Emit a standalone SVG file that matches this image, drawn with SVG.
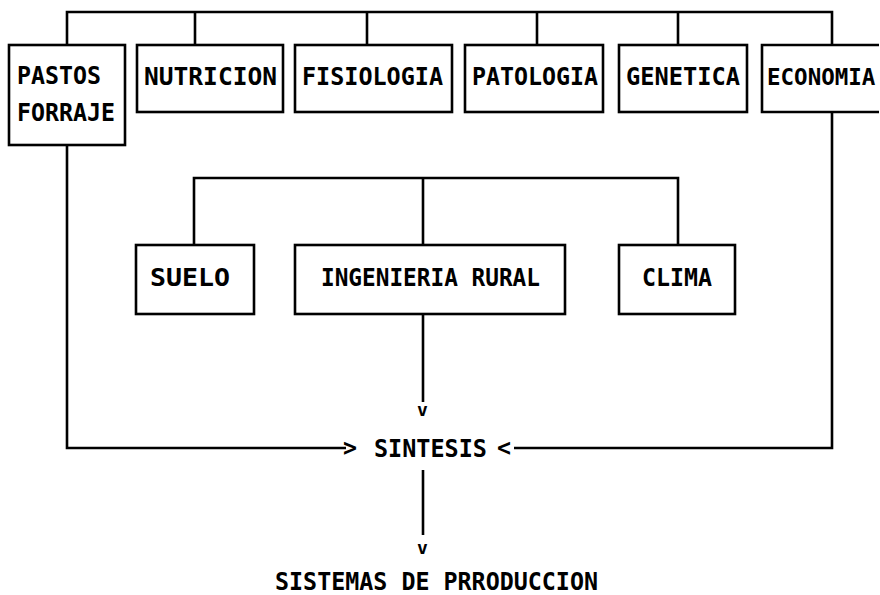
<svg xmlns="http://www.w3.org/2000/svg" width="880" height="595" viewBox="0 0 880 595">
<style>
.box{fill:#fff;stroke:#000;stroke-width:2.6}
.ln{fill:none;stroke:#000;stroke-width:2.6}
text{font-family:"DejaVu Sans Mono","Liberation Mono",monospace;font-weight:bold;font-size:25px;fill:#000}
.sm{font-size:18px}
</style>
<rect width="880" height="595" fill="#fff"/>
<g id="connectors">
<path class="ln" d="M67,45 V12 H832 V45"/>
<path class="ln" d="M195,12 V45 M367,12 V45 M537,12 V45 M678,12 V45"/>
<path class="ln" d="M67,145 V448 H346"/>
<path class="ln" d="M832,112 V448 H514"/>
<path class="ln" d="M194,245 V178 H678 V245 M423,178 V245"/>
<path class="ln" d="M423,314 V402"/>
<path class="ln" d="M423,470 V535"/>
<text x="343" y="456" textLength="14" lengthAdjust="spacingAndGlyphs">&gt;</text>
<text x="497" y="456" textLength="14" lengthAdjust="spacingAndGlyphs">&lt;</text>
<text class="sm" x="417" y="416">v</text>
<text class="sm" x="417" y="554">v</text>
</g>
<g id="pastos"><rect class="box" x="9" y="45" width="116" height="100"/><text x="17" y="84" textLength="84" lengthAdjust="spacingAndGlyphs">PASTOS</text><text x="17" y="121" textLength="98" lengthAdjust="spacingAndGlyphs">FORRAJE</text></g>
<g id="nutricion"><rect class="box" x="137" y="45" width="146" height="67"/><text x="144" y="85" textLength="133" lengthAdjust="spacingAndGlyphs">NUTRICION</text></g>
<g id="fisiologia"><rect class="box" x="295" y="45" width="157" height="67"/><text x="302" y="85" textLength="141" lengthAdjust="spacingAndGlyphs">FISIOLOGIA</text></g>
<g id="patologia"><rect class="box" x="465" y="45" width="138" height="67"/><text x="472" y="85" textLength="126" lengthAdjust="spacingAndGlyphs">PATOLOGIA</text></g>
<g id="genetica"><rect class="box" x="619" y="45" width="128" height="67"/><text x="626" y="85" textLength="114" lengthAdjust="spacingAndGlyphs">GENETICA</text></g>
<g id="economia"><path class="box" d="M879,45 H762 V112 H879"/><text x="767" y="85" style="font-size:22.5px">ECONOMIA</text></g>
<g id="suelo"><rect class="box" x="136" y="245" width="118" height="69"/><text x="150" y="286" textLength="80" lengthAdjust="spacingAndGlyphs">SUELO</text></g>
<g id="ingenieria"><rect class="box" x="295" y="245" width="270" height="69"/><text x="321" y="286" textLength="219" lengthAdjust="spacingAndGlyphs">INGENIERIA RURAL</text></g>
<g id="clima"><rect class="box" x="619" y="245" width="116" height="69"/><text x="642" y="286" textLength="70" lengthAdjust="spacingAndGlyphs">CLIMA</text></g>
<g id="sintesis"><text x="374" y="457" textLength="113" lengthAdjust="spacingAndGlyphs">SINTESIS</text></g>
<g id="sistemas"><text x="275" y="590" textLength="323" lengthAdjust="spacingAndGlyphs">SISTEMAS DE PRRODUCCION</text></g>
</svg>
